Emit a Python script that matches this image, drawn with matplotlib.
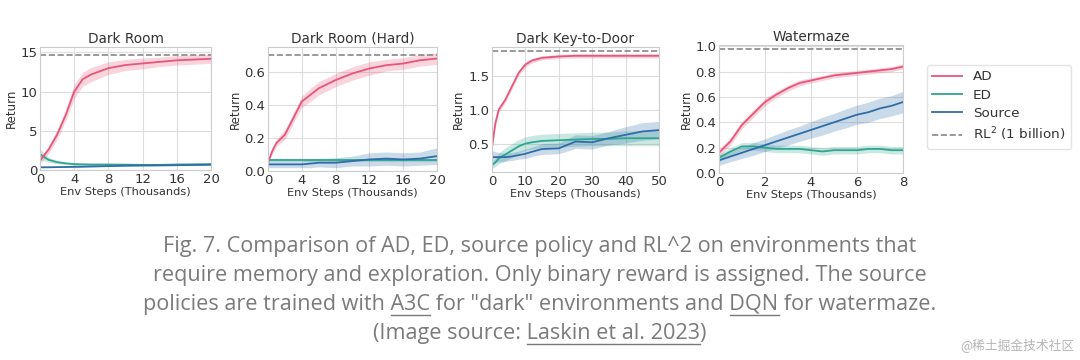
import matplotlib
matplotlib.use("Agg")
import matplotlib.pyplot as plt
from matplotlib.lines import Line2D

# ---- data ----
titles = ["Dark Room", "Dark Room (Hard)", "Dark Key-to-Door", "Watermaze"]

dr_x = [0, 1, 2, 3, 4, 5, 6, 8, 10, 12, 14, 16, 18, 20]
dr_ad = [1.2, 2.6, 4.5, 7.0, 10.0, 11.6, 12.2, 13.0, 13.4, 13.6, 13.8, 14.0, 14.1, 14.2]
dr_ad_err = [0.4, 0.5, 0.6, 0.7, 0.9, 0.9, 0.9, 0.8, 0.7, 0.7, 0.6, 0.6, 0.6, 0.6]
dr_ed = [2.0, 1.3, 1.0, 0.85, 0.75, 0.72, 0.7, 0.7, 0.68, 0.65, 0.65, 0.7, 0.72, 0.75]
dr_ed_err = [0.7, 0.3, 0.2, 0.15, 0.15, 0.15, 0.15, 0.15, 0.15, 0.15, 0.15, 0.15, 0.15, 0.15]
dr_src = [0.35, 0.35, 0.37, 0.38, 0.4, 0.42, 0.45, 0.5, 0.55, 0.58, 0.6, 0.62, 0.65, 0.67]
dr_src_err = [0.05] * 14
dr_rl2 = 14.7

drh_x = [0, 0.5, 1, 2, 3, 4, 5, 6, 8, 10, 12, 14, 16, 18, 20]
drh_ad = [0.05, 0.12, 0.17, 0.22, 0.32, 0.42, 0.46, 0.50, 0.55, 0.59, 0.62, 0.64, 0.65, 0.67, 0.68]
drh_ad_err = [0.01, 0.02, 0.02, 0.03, 0.03, 0.035, 0.04, 0.04, 0.04, 0.04, 0.04, 0.035, 0.035, 0.035, 0.035]
drh_ed = [0.065] * 15
drh_ed_err = [0.01] * 15
drh_src = [0.04, 0.04, 0.04, 0.04, 0.04, 0.04, 0.045, 0.05, 0.05, 0.06, 0.07, 0.075, 0.07, 0.075, 0.09]
drh_src_err = [0.02, 0.02, 0.02, 0.02, 0.02, 0.02, 0.025, 0.025, 0.03, 0.03, 0.04, 0.04, 0.04, 0.04, 0.05]
drh_rl2 = 0.70

kd_x = [0, 1, 2, 4, 6, 8, 10, 12, 15, 20, 25, 30, 35, 40, 45, 50]
kd_ad = [0.45, 0.8, 1.0, 1.15, 1.35, 1.55, 1.67, 1.73, 1.77, 1.79, 1.8, 1.8, 1.8, 1.8, 1.8, 1.8]
kd_ad_err = [0.05, 0.05, 0.04, 0.04, 0.04, 0.04, 0.04, 0.035, 0.03, 0.03, 0.03, 0.03, 0.03, 0.03, 0.03, 0.03]
kd_ed = [0.18, 0.22, 0.28, 0.34, 0.4, 0.46, 0.5, 0.52, 0.54, 0.55, 0.56, 0.57, 0.57, 0.58, 0.58, 0.58]
kd_ed_err = [0.05, 0.06, 0.08, 0.1, 0.1, 0.1, 0.1, 0.1, 0.1, 0.1, 0.1, 0.1, 0.1, 0.11, 0.11, 0.11]
kd_src = [0.3, 0.3, 0.3, 0.3, 0.31, 0.33, 0.35, 0.38, 0.42, 0.43, 0.53, 0.52, 0.58, 0.63, 0.68, 0.7]
kd_src_err = [0.1, 0.08, 0.07, 0.06, 0.06, 0.06, 0.07, 0.07, 0.08, 0.08, 0.1, 0.1, 0.1, 0.12, 0.13, 0.13]
kd_rl2 = 1.87

wm_x = [0, 0.5, 1, 1.5, 2, 2.5, 3, 3.5, 4, 4.5, 5, 5.5, 6, 6.5, 7, 7.5, 8]
wm_ad = [0.16, 0.25, 0.38, 0.47, 0.56, 0.62, 0.67, 0.71, 0.73, 0.75, 0.77, 0.78, 0.79, 0.80, 0.81, 0.82, 0.84]
wm_ad_err = [0.03, 0.03, 0.03, 0.03, 0.03, 0.025, 0.025, 0.025, 0.02, 0.02, 0.02, 0.02, 0.02, 0.02, 0.02, 0.02, 0.02]
wm_ed = [0.12, 0.17, 0.21, 0.21, 0.20, 0.19, 0.19, 0.19, 0.18, 0.17, 0.18, 0.18, 0.18, 0.19, 0.19, 0.18, 0.18]
wm_ed_err = [0.03] * 17
wm_src = [0.1, 0.13, 0.16, 0.19, 0.22, 0.25, 0.28, 0.31, 0.34, 0.37, 0.40, 0.43, 0.46, 0.48, 0.51, 0.53, 0.56]
wm_src_err = [0.04, 0.04, 0.045, 0.05, 0.05, 0.055, 0.06, 0.06, 0.065, 0.07, 0.07, 0.075, 0.075, 0.08, 0.08, 0.08, 0.085]
wm_rl2 = 0.975

xticks = [[0, 4, 8, 12, 16, 20], [0, 4, 8, 12, 16, 20], [0, 10, 20, 30, 40, 50], [0, 2, 4, 6, 8]]
yticks = [[0, 5, 10, 15], [0.0, 0.2, 0.4, 0.6], [0.5, 1.0, 1.5], [0.0, 0.2, 0.4, 0.6, 0.8, 1.0]]
ylims = [(0, 15.7), (0, 0.75), (0.08, 1.93), (0, 1.01)]

caption_lines = [
    "Fig. 7. Comparison of AD, ED, source policy and RL^2 on environments that",
    "require memory and exploration. Only binary reward is assigned. The source",
    "policies are trained with A3C for \"dark\" environments and DQN for watermaze.",
    "(Image source: Laskin et al. 2023)",
]
underlined = [[], [], ["A3C", "DQN"], ["Laskin et al. 2023"]]

# ---- style ----
c_ad = "#e8557a"
c_ed = "#2ea58f"
c_src = "#2f6da8"
c_rl2 = "#888888"

fig = plt.figure(figsize=(10.8, 3.6), dpi=100)
W, H = 1080, 360

# axes boxes in pixels: left, top, right, bottom
boxes = [(40, 47, 211, 170), (268, 47, 437, 171), (492, 47, 659, 172), (719, 45, 903, 173)]

panels = [
    (dr_x, dr_ad, dr_ad_err, dr_ed, dr_ed_err, dr_src, dr_src_err, dr_rl2),
    (drh_x, drh_ad, drh_ad_err, drh_ed, drh_ed_err, drh_src, drh_src_err, drh_rl2),
    (kd_x, kd_ad, kd_ad_err, kd_ed, kd_ed_err, kd_src, kd_src_err, kd_rl2),
    (wm_x, wm_ad, wm_ad_err, wm_ed, wm_ed_err, wm_src, wm_src_err, wm_rl2),
]

for i, (x, ad, ade, ed, ede, src, srce, rl2) in enumerate(panels):
    l, t, r, b = boxes[i]
    ax = fig.add_axes([l / W, 1 - b / H, (r - l) / W, (b - t) / H])
    for y, e, c in [(ed, ede, c_ed), (src, srce, c_src), (ad, ade, c_ad)]:
        lo = [m - d for m, d in zip(y, e)]
        hi = [m + d for m, d in zip(y, e)]
        ax.fill_between(x, lo, hi, color=c, alpha=0.25, lw=0)
        ax.plot(x, y, color=c, lw=1.3)
    ax.axhline(rl2, color=c_rl2, ls="--", lw=1.2)
    ax.set_xlim(x[0], x[-1])
    ax.set_ylim(*ylims[i])
    ax.set_xticks(xticks[i])
    ax.set_yticks(yticks[i])
    ax.grid(True, color="#dddddd", lw=0.8)
    ax.set_axisbelow(True)
    for s in ax.spines.values():
        s.set_color("#cccccc")
        s.set_linewidth(0.8)
    ax.tick_params(length=0, labelsize=9.5, colors="#333333", pad=2)
    ax.set_title(titles[i], fontsize=9.8, color="#333333", pad=3)
    ax.set_xlabel("Env Steps (Thousands)", fontsize=8.2, color="#333333", labelpad=1)
    ax.set_ylabel("Return", fontsize=8.5, color="#333333", labelpad=2)

handles = [
    Line2D([], [], color=c_ad, lw=1.3),
    Line2D([], [], color=c_ed, lw=1.3),
    Line2D([], [], color=c_src, lw=1.3),
    Line2D([], [], color=c_rl2, lw=1.2, ls="--"),
]
fig.legend(handles, ["AD", "ED", "Source", "RL$^2$ (1 billion)"],
           loc="upper left", bbox_to_anchor=(927 / W, 1 - 65 / H), borderaxespad=0,
           fontsize=9.7, frameon=True, edgecolor="#dddddd", fancybox=True,
           labelcolor="#333333", handlelength=2.2, borderpad=0.4, labelspacing=0.4)

# ---- caption with underlined links ----
renderer = fig.canvas.get_renderer()
cap_font = dict(family="Open Sans", size=15, color="#7a7a7a")
# fit the first line to the width it has in the reference (~752 px)
probe = fig.text(0, 0, caption_lines[0], **cap_font)
cap_font["size"] = 15 * 752 / probe.get_window_extent(renderer).width
probe.remove()

cap_base = [252, 281, 310, 339]
for line, yp, words in zip(caption_lines, cap_base, underlined):
    txt = fig.text(0.5, 1 - yp / H, line, ha="center", va="baseline", **cap_font)
    bb = txt.get_window_extent(renderer)
    for w in words:
        pre = line[:line.index(w)]
        bar = fig.text(0, 0, "|", **cap_font)
        tmp = fig.text(0, 0, pre + "|", **cap_font)
        tw = fig.text(0, 0, "|" + w + "|", **cap_font)
        bw = bar.get_window_extent(renderer).width
        x0 = bb.x0 + tmp.get_window_extent(renderer).width - bw
        ww = tw.get_window_extent(renderer).width - 2 * bw
        for tt in (bar, tmp, tw):
            tt.remove()
        yy = H - yp - 5
        fig.add_artist(Line2D([x0 / W, (x0 + ww) / W], [yy / H, yy / H], color="#7a7a7a", lw=1.0))

fig.text(1074 / W, 1 - 345 / H, "@稀土掘金技术社区", ha="right", va="center",
         family=["Noto Sans CJK SC", "DejaVu Sans"], size=9.2, color="#b5b5b5")

fig.savefig("out.png", dpi=100)
